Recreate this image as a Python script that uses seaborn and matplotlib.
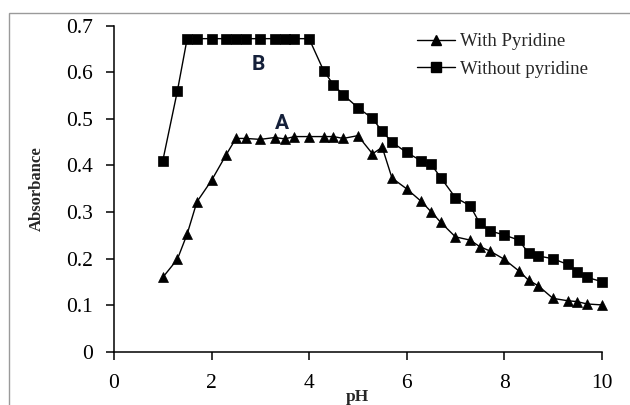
import matplotlib
matplotlib.use("Agg")
import matplotlib.pyplot as plt
import seaborn as sns
import pandas as pd
from matplotlib.patches import Rectangle
from matplotlib.lines import Line2D

ph = [1.0, 1.3, 1.5, 1.7, 2.0, 2.3, 2.5, 2.7, 3.0, 3.3, 3.5, 3.7, 4.0, 4.3, 4.5, 4.7,
      5.0, 5.3, 5.5, 5.7, 6.0, 6.3, 6.5, 6.7, 7.0, 7.3, 7.5, 7.7, 8.0, 8.3, 8.5, 8.7,
      9.0, 9.3, 9.5, 9.7, 10.0]
with_pyridine = [0.160, 0.199, 0.253, 0.322, 0.368, 0.423, 0.458, 0.458, 0.456, 0.460,
                 0.457, 0.462, 0.462, 0.462, 0.462, 0.458, 0.464, 0.425, 0.439, 0.373,
                 0.350, 0.323, 0.301, 0.278, 0.247, 0.240, 0.226, 0.217, 0.199, 0.174,
                 0.154, 0.142, 0.115, 0.110, 0.108, 0.103, 0.101]
without_pyridine = [0.410, 0.560, 0.672, 0.672, 0.672, 0.672, 0.672, 0.672, 0.672, 0.672,
                    0.672, 0.672, 0.672, 0.603, 0.573, 0.552, 0.524, 0.501, 0.473, 0.450,
                    0.428, 0.410, 0.403, 0.374, 0.331, 0.314, 0.276, 0.260, 0.251, 0.240,
                    0.212, 0.206, 0.200, 0.188, 0.172, 0.160, 0.151]
series_names = ["With Pyridine", "Without pyridine"]
x_ticks = [0, 2, 4, 6, 8, 10]
y_ticks = [0, 0.1, 0.2, 0.3, 0.4, 0.5, 0.6, 0.7]
y_tick_labels = ["0", "0.1", "0.2", "0.3", "0.4", "0.5", "0.6", "0.7"]

df = pd.concat([
    pd.DataFrame({"pH": ph, "Absorbance": with_pyridine, "series": series_names[0]}),
    pd.DataFrame({"pH": ph, "Absorbance": without_pyridine, "series": series_names[1]}),
])

sns.set_style("white")
plt.rcParams["font.family"] = ["Liberation Serif", "DejaVu Serif"]

fig = plt.figure(figsize=(6.3, 4.05), dpi=100)
ax = fig.add_axes([114 / 630, 1 - 352 / 405, (601.7 - 114) / 630, (352 - 25.6) / 405])

markers = {series_names[0]: "^", series_names[1]: "s"}
msizes = {series_names[0]: 6.5, series_names[1]: 7}
for name in series_names:
    sub = df[df["series"] == name]
    sns.lineplot(data=sub, x="pH", y="Absorbance", ax=ax, color="black", linewidth=1.0,
                 marker=markers[name], markersize=msizes[name], markeredgecolor="black",
                 markerfacecolor="black", markeredgewidth=0.5, legend=False,
                 estimator=None, sort=False, clip_on=False)

ax.set_xlim(0, 10)
ax.set_ylim(0, 0.7)
ax.set_xticks(x_ticks)
ax.set_xticklabels([str(t) for t in x_ticks])
ax.set_yticks(y_ticks)
ax.set_yticklabels(y_tick_labels)
for side in ["top", "right"]:
    ax.spines[side].set_visible(False)
for side in ["left", "bottom"]:
    ax.spines[side].set_color("black")
    ax.spines[side].set_linewidth(1.1)
ax.tick_params(axis="both", direction="out", length=6, width=1.1, color="black",
               labelsize=15.5, labelcolor="black", left=True, bottom=True)
ax.tick_params(axis="y", pad=9)
ax.tick_params(axis="x", pad=10)

ax.set_xlabel("pH", fontsize=12.5, fontweight="bold")
ax.set_ylabel("Absorbance", fontsize=12, fontweight="bold")
ax.xaxis.set_label_coords(0.5, -0.113)
ax.yaxis.set_label_coords(-0.142, 0.5)

ax.text(2.96, 0.616, "B", fontsize=15, fontweight="bold", family=["Roboto", "DejaVu Sans"],
        color="#15203a", ha="center", va="center")
ax.text(3.45, 0.489, "A", fontsize=15, fontweight="bold", family=["Roboto", "DejaVu Sans"],
        color="#15203a", ha="center", va="center")

handles = [Line2D([], [], color="black", lw=1.0, marker="^", markersize=6.5),
           Line2D([], [], color="black", lw=1.0, marker="s", markersize=7)]
ax.legend(handles, series_names, loc="upper left", bbox_to_anchor=(417 / 630, 1 - 33 / 405),
          bbox_transform=fig.transFigure, frameon=False, fontsize=13.5, borderpad=0,
          handlelength=2.0, handletextpad=0.3, labelspacing=0.55, borderaxespad=0)

fig.patches.append(Rectangle((9 / 630, -0.1), 1.2, 1 - 13 / 405 + 0.1, transform=fig.transFigure,
                             fill=False, edgecolor="#9a9a9a", linewidth=1.0))

fig.savefig("out.png", dpi=100)
